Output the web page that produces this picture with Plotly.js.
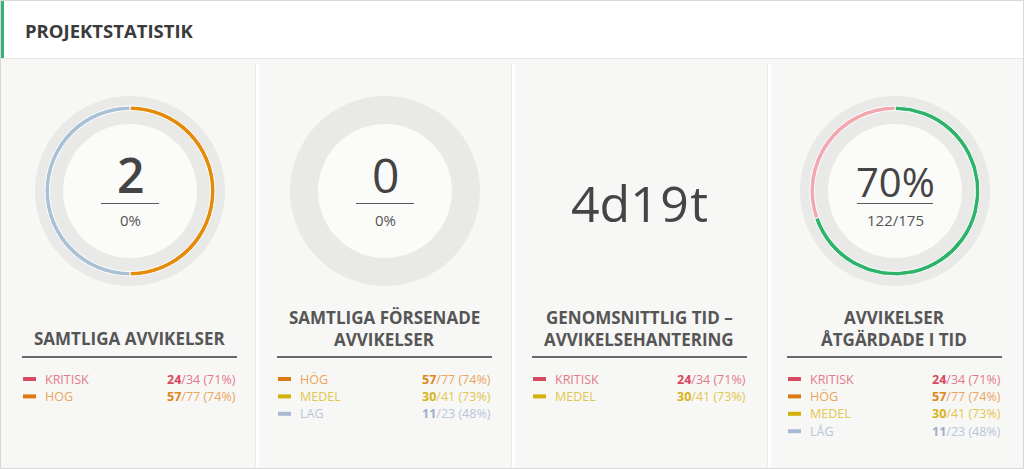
<!DOCTYPE html>
<html><head><meta charset="utf-8">
<script src="https://cdn.plot.ly/plotly-3.0.1.min.js"></script>
<style>html,body{margin:0;padding:0;background:#f7f7f5;}#chart{width:1024px;height:469px;}</style>
</head><body><div id="chart"></div>
<script>
// ---------- data ----------
const pageTitle = 'PROJEKTSTATISTIK';
const panelTitles = [
  ['SAMTLIGA AVVIKELSER'],
  ['SAMTLIGA FÖRSENADE', 'AVVIKELSER'],
  ['GENOMSNITTLIG TID –', 'AVVIKELSEHANTERING'],
  ['AVVIKELSER', 'ÅTGÄRDADE I TID']
];
const bigValues = ['2', '0', '4d19t', '70%'];
const subValues = ['0%', '0%', null, '122/175'];

// donut rings
const ring1Labels = ['Hög', 'Låg'];
const ring1Values = [1, 1];
const ring1Colors = ['#e38b0b', '#a9c1d5'];
const ring4Labels = ['Åtgärdade i tid', 'Ej i tid'];
const ring4Values = [122, 53];
const ring4Colors = ['#2fb36b', '#f2a8b1'];

// legends
const legLabels = [
  ['KRITISK', 'HOG'],
  ['HÖG', 'MEDEL', 'LAG'],
  ['KRITISK', 'MEDEL'],
  ['KRITISK', 'HÖG', 'MEDEL', 'LÅG']
];
const legDone = [[24, 57], [57, 30, 11], [24, 30], [24, 57, 30, 11]];
const legTotal = [[34, 77], [77, 41, 23], [34, 41], [34, 77, 41, 23]];
const legPct = [[71, 74], [74, 73, 48], [71, 73], [71, 74, 73, 48]];

// ---------- styles ----------
const levelStyle = {
  'KRITISK': {sw: '#d64b5f', strong: '#d9485d', light: '#e27a8b'},
  'HOG': {sw: '#dc7a13', strong: '#e0861b', light: '#eba55c'},
  'HÖG': {sw: '#dc7a13', strong: '#e0861b', light: '#eba55c'},
  'MEDEL': {sw: '#d4b108', strong: '#d8b21a', light: '#e2c74f'},
  'LAG': {sw: '#a9b9d3', strong: '#9eafcb', light: '#b9c6dc'},
  'LÅG': {sw: '#a9b9d3', strong: '#9eafcb', light: '#b9c6dc'}
};
const W = 1024, H = 469;
const FONT = 'Open Sans, sans-serif';
const fx = x => x / W, fy = y => 1 - y / H;
const offs = [0, 255, 510, 765];
const cxs = offs.map(o => 130 + o);
const CY = 191;

const shapes = [];
const annotations = [];
const data = [];

function rect(x0, y0, x1, y1, fill, extra) {
  shapes.push(Object.assign({type: 'rect', xref: 'paper', yref: 'paper', x0: fx(x0), x1: fx(x1), y0: fy(y1), y1: fy(y0), fillcolor: fill, line: {width: 0}, layer: 'below'}, extra || {}));
}
function hline(x0, x1, y, color, w) {
  shapes.push({type: 'line', xref: 'paper', yref: 'paper', x0: fx(x0), x1: fx(x1), y0: fy(y), y1: fy(y), line: {color: color, width: w}, layer: 'above'});
}
function vline(x, y0, y1, color, w) {
  shapes.push({type: 'line', xref: 'paper', yref: 'paper', x0: fx(x), x1: fx(x), y0: fy(y0), y1: fy(y1), line: {color: color, width: w}, layer: 'below'});
}
function circle(cx, cy, r, fill) {
  shapes.push({type: 'circle', xref: 'paper', yref: 'paper', x0: fx(cx - r), x1: fx(cx + r), y0: fy(cy + r), y1: fy(cy - r), fillcolor: fill, line: {width: 0}, layer: 'below'});
}
function ann(x, y, text, size, color, opts) {
  annotations.push(Object.assign({xref: 'paper', yref: 'paper', x: fx(x), y: fy(y), text: text, showarrow: false,
    xanchor: 'center', yanchor: 'middle', font: {family: FONT, size: size, color: color}}, opts || {}));
}
function dom(cx, cy, r) {
  return {x: [fx(cx - r), fx(cx + r)], y: [fy(cy + r), fy(cy - r)]};
}
function pie(cx, cy, r, hole, labels, values, colors, lineW) {
  data.push({type: 'pie', labels: labels, values: values, hole: hole, sort: false, direction: 'clockwise', rotation: 0,
    domain: dom(cx, cy, r), textinfo: 'none', hoverinfo: 'label+value', showlegend: false,
    marker: {colors: colors, line: {color: '#ffffff', width: lineW}}});
}

// header
rect(0, 0, W, 58, '#ffffff');
hline(0, W, 58.5, '#e6e6e4', 1);
rect(1, 1, 4, 58, '#3daf78');
ann(23, 30, pageTitle, 18.5, '#3a3a3a', {xanchor: 'left', font: {family: FONT, size: 18.5, color: '#3a3a3a', weight: 700}});

// separators
[257, 513, 769].forEach(x => {
  vline(x - 1.5, 64, H, '#ececea', 1);
  vline(x + 0.5, 64, H, '#ffffff', 2.5);
});

// panels
for (let i = 0; i < 4; i++) {
  const o = offs[i], cx = cxs[i];
  // donut
  if (i !== 2) {
    circle(cx, CY, 67, '#fbfbfa');
    pie(cx, CY, 95, 67 / 95, ['bakgrund'], [1], ['#e9e9e7'], 0);
  }
  if (i === 0) pie(cx, CY, 85, 80.5 / 85, ring1Labels, ring1Values, ring1Colors, 1);
  if (i === 3) pie(cx, CY, 85, 80.5 / 85, ring4Labels, ring4Values, ring4Colors, 1);
  // center text
  if (i === 2) {
    ann(cx, 203, '4d<span style="font-weight:400;letter-spacing:1.5px">19t</span>', 50, '#454545',
      {font: {family: FONT, size: 50, color: '#454545', weight: 500}});
  } else {
    const big = i === 3 ? 40 : 48;
    const wt = i === 0 ? 600 : 500;
    ann(cx, i === 3 ? 181 : 175, bigValues[i], big, '#444444',
      {font: {family: FONT, size: big, color: '#444444', weight: wt}});
    const half = i === 3 ? 38 : 29;
    hline(cx - half, cx + half, 203.5, '#5a5a5a', 1);
    ann(cx, 219.5, subValues[i], 15, '#555555');
  }
  // title
  const tl = panelTitles[i];
  const ys = tl.length === 1 ? [338] : [317, 339];
  tl.forEach((t, k) => ann(cx - 1, ys[k], t, 17, '#555555', {font: {family: FONT, size: 17, color: '#555555', weight: 700}}));
  hline(o + 22, o + 237, 357, '#6a6a6a', 2.2);
  // legend
  legLabels[i].forEach((lab, k) => {
    const st = levelStyle[lab];
    const y = 379 + k * 17.4;
    rect(o + 23, y - 2, o + 36, y + 2, st.sw, {layer: 'above'});
    ann(o + 43, y, lab, 12.5, st.light, {xanchor: 'left'});
    ann(o + 238, y, '<span style="color:' + st.strong + '"><b>' + legDone[i][k] + '</b></span>/' + legTotal[i][k] + ' (' + legPct[i][k] + '%)', 12.5, st.light, {xanchor: 'right'});
  });
}

// outer border
shapes.push({type: 'rect', xref: 'paper', yref: 'paper', x0: fx(0.5), x1: fx(W - 0.5), y0: fy(H - 0.5), y1: fy(0.5), line: {color: '#d8d8d8', width: 1}, fillcolor: 'rgba(0,0,0,0)', layer: 'above'});

const layout = {
  width: W, height: H, margin: {l: 0, r: 0, t: 0, b: 0},
  paper_bgcolor: '#f7f7f5', plot_bgcolor: '#f7f7f5',
  showlegend: false, shapes: shapes, annotations: annotations,
  font: {family: FONT}
};
Plotly.newPlot('chart', data, layout, {displayModeBar: false, staticPlot: true});
</script></body></html>
